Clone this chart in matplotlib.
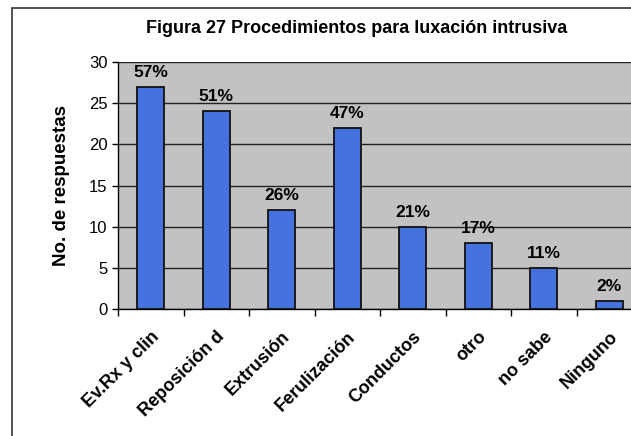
"""Bar chart: Figura 27 Procedimientos para luxacion intrusiva."""

import matplotlib
matplotlib.use("Agg")
import matplotlib.pyplot as plt
from matplotlib.patches import Rectangle
import numpy as np

categories = ["Ev.Rx y clin", "Reposición d", "Extrusión", "Ferulización",
              "Conductos", "otro", "no sabe", "Ninguno"]
respuestas = [27, 24, 12, 22, 10, 8, 5, 1]
porcentajes = ["57%", "51%", "26%", "47%", "21%", "17%", "11%", "2%"]
y_ticks = [0, 5, 10, 15, 20, 25, 30]

plt.rcParams["font.family"] = ["Liberation Sans", "DejaVu Sans"]

fig = plt.figure(figsize=(6.31, 4.36), dpi=100)
fig.patch.set_facecolor("white")

# outer chart frame (cut off at right and bottom like the scan)
fig.patches.append(Rectangle((12 / 631, -0.05), 1.2, 1 - 8 / 436 + 0.05,
                             transform=fig.transFigure, fill=False,
                             edgecolor="#333333", linewidth=1.2))

ax = fig.add_axes([118 / 631, 1 - 309 / 436, 524 / 631, 247 / 436])
ax.set_facecolor("#c2c2c2")

x = np.arange(len(categories))
bars = ax.bar(x, respuestas, width=0.41, color="#4672e0",
              edgecolor="#111111", linewidth=1.3, zorder=3)

for rect, lab in zip(bars, porcentajes):
    ax.annotate(lab, (rect.get_x() + rect.get_width() / 2, rect.get_height()),
                xytext=(0, 5), textcoords="offset points", ha="center",
                va="bottom", fontsize=12.5, fontweight="bold", zorder=4)

ax.set_xlim(-0.5, len(categories) - 0.5)
ax.set_ylim(0, 30)
ax.set_yticks(y_ticks)
ax.yaxis.grid(True, color="#222222", linewidth=1.0, zorder=1)
ax.tick_params(axis="y", labelsize=12, length=4, width=1)

ax.set_xticks(x)
ax.set_xticklabels(categories, rotation=45, ha="right",
                   rotation_mode="anchor", fontsize=13, fontweight="bold")
ax.set_xticks(np.arange(len(categories) + 1) - 0.5, minor=True)
ax.tick_params(axis="x", which="major", length=0, pad=14)
ax.tick_params(axis="x", which="minor", length=5, width=1)

for side in ["top", "right"]:
    ax.spines[side].set_visible(False)
ax.spines["left"].set_linewidth(1.0)
ax.spines["bottom"].set_linewidth(1.0)

ax.set_ylabel("No. de respuestas", fontsize=13.5, fontweight="bold",
              labelpad=14)
fig.text(357 / 631, 1 - 28 / 436,
         "Figura 27 Procedimientos para luxación intrusiva",
         ha="center", va="center", fontsize=13, fontweight="bold")

fig.savefig("out.png", dpi=100)
